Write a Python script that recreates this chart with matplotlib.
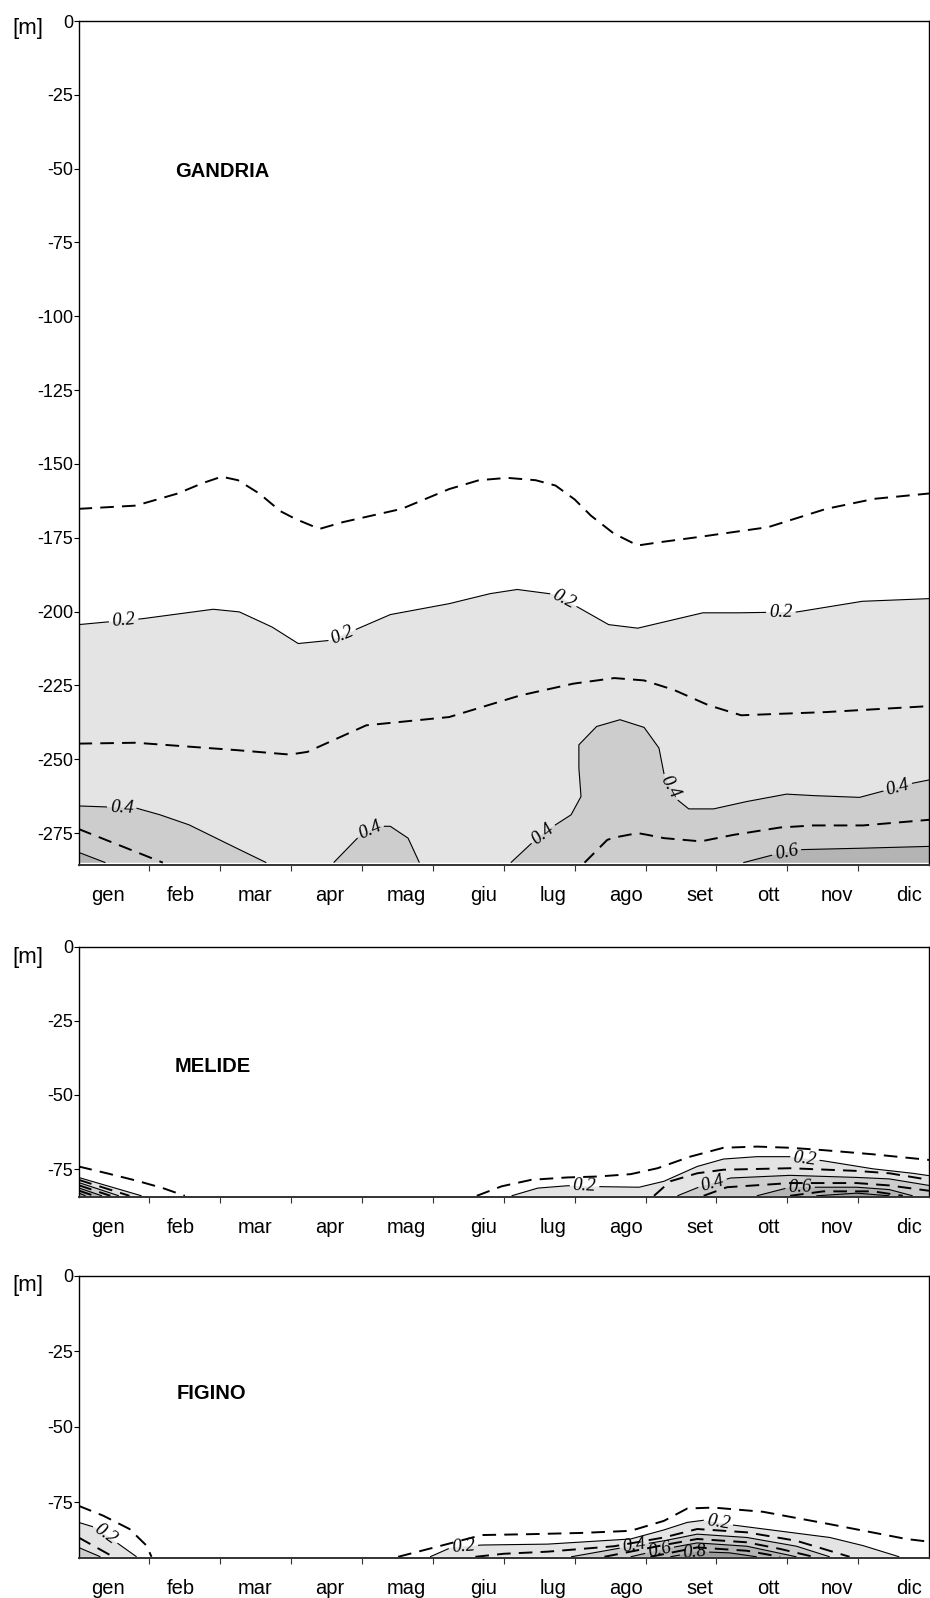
import numpy as np
import matplotlib
matplotlib.use("Agg")
import matplotlib.pyplot as plt
from matplotlib.contour import ContourSet

plt.rcParams['font.family'] = ['Liberation Sans', 'DejaVu Sans']

# ---------------- data ----------------
MONTHS = ['gen', 'feb', 'mar', 'apr', 'mag', 'giu', 'lug', 'ago', 'set', 'ott', 'nov', 'dic']
MONTH_LABEL_POS = [0.41, 1.44, 2.49, 3.55, 4.63, 5.72, 6.69, 7.72, 8.77, 9.73, 10.70, 11.72]

# ---- GANDRIA isolines (month, depth m) ----
G01_X = [0, 0.81, 1.40, 1.75, 2.02, 2.25, 2.55, 2.85, 3.06, 3.40, 3.73, 4.56, 5.23, 5.65, 6.05, 6.45, 6.73, 7.00, 7.23, 7.55, 7.89, 8.20, 8.73, 9.73, 10.55, 11.23, 12]
G01_Y = [-165.2, -164.1, -160, -156.5, -154.3, -155.5, -160, -166, -168.6, -172, -169.7, -165.2, -158.5, -155.5, -154.7, -155.5, -157.3, -162, -167.5, -173.5, -177.6, -176.5, -174.8, -171.4, -165.2, -161.8, -160]
G02_X = [0, 0.90, 1.90, 2.27, 2.73, 3.10, 3.56, 4.40, 5.23, 5.81, 6.19, 6.73, 7.48, 7.89, 8.81, 9.31, 10.14, 11.06, 12]
G02_Y = [-204.4, -202.4, -199.2, -200.1, -205.2, -210.8, -209.7, -201, -197.3, -193.9, -192.5, -194.2, -204.4, -205.6, -200.4, -200.4, -200.1, -196.5, -195.6]
G03_X = [0, 0.81, 2.23, 2.98, 3.23, 4.06, 5.23, 6.23, 6.98, 7.56, 7.98, 8.40, 8.89, 9.35, 10.56, 12]
G03_Y = [-244.7, -244.4, -246.9, -248.4, -247.5, -238.5, -235.7, -228.4, -224.4, -222.5, -223.3, -226.5, -231.7, -235.1, -234, -232]
G04A_X = [0, 0.81, 1.15, 1.56, 2.23, 2.65]
G04A_Y = [-265.8, -266.5, -268.8, -272.2, -280.1, -285]
G04B_X = [3.60, 3.98, 4.23, 4.40, 4.65, 4.81]
G04B_Y = [-285, -275.6, -272.7, -272.7, -276.7, -285]
G04C_X = [6.10, 6.39, 6.62, 6.95, 7.09, 7.06, 7.06, 7.31, 7.64, 7.98, 8.19, 8.27, 8.45, 8.61, 8.96, 9.43, 9.99, 10.37, 11.02, 11.77, 12]
G04C_Y = [-285, -278.5, -273.9, -268.8, -262.6, -253, -245.1, -238.9, -236.6, -239.2, -246.2, -256, -263.7, -266.8, -266.8, -264.3, -261.8, -262.3, -262.9, -258.1, -257]
G05A_X = [0, 0.93, 1.19]
G05A_Y = [-273.6, -282.5, -285]
G05B_X = [7.14, 7.46, 7.56, 7.89, 8.03, 8.26, 8.78, 9.24, 9.90, 10.37, 11.07, 12]
G05B_Y = [-285, -277.3, -276.5, -275, -275.6, -276.7, -277.8, -275.6, -273.1, -272.4, -272.4, -270.5]
G06A_X = [0, 0.38]
G06A_Y = [-281.5, -285]
G06B_X = [9.38, 9.86, 10.18, 11.07, 12]
G06B_Y = [-285, -282, -280.6, -280.1, -279.5]
G_LABELS_X = [0.64, 3.72, 6.84, 9.91, 0.61, 4.12, 6.52, 8.34, 11.56, 9.99]
G_LABELS_Y = [-204, -208, -196, -200.4, -266.5, -274.4, -274.3, -259.6, -259.6, -281.3]

# ---- MELIDE isolines ----
M01A_X = [0, 0.40, 0.82, 1.19, 1.50]
M01A_Y = [-74.1, -76.4, -78.9, -81.4, -84]
M01B_X = [5.62, 5.97, 6.39, 6.90, 7.32, 7.79, 8.17, 8.63, 9.10, 9.57, 10.04, 10.51, 11.21, 12]
M01B_Y = [-84, -80.8, -78.6, -77.8, -77.5, -76.7, -74.7, -70.8, -67.8, -67.4, -67.8, -68.6, -70, -71.9]
M02A_X = [0, 0.89]
M02A_Y = [-77.8, -84]
M02B_X = [6.11, 6.48, 6.90, 7.32, 7.91, 8.26, 8.73, 9.10, 9.57, 10.04, 10.51, 11.21, 11.77, 12]
M02B_Y = [-84, -81.4, -80.6, -80.9, -81.1, -79.1, -74.1, -71.6, -70.8, -70.8, -72.2, -74.9, -76.4, -77.2]
M03A_X = [0, 0.72]
M03A_Y = [-78.6, -84]
M03B_X = [8.12, 8.35, 8.73, 9.10, 10.04, 10.98, 11.44, 12]
M03B_Y = [-84, -79.1, -76.4, -75.2, -74.7, -75.6, -76.4, -78.6]
M04A_X = [0, 0.57]
M04A_Y = [-79.5, -84]
M04B_X = [8.45, 8.78, 9.20, 10.04, 10.98, 11.44, 12]
M04B_Y = [-84, -80.8, -78.0, -77.1, -77.8, -78.3, -80.5]
M05A_X = [0, 0.45]
M05A_Y = [-80.4, -84]
M05B_X = [8.82, 9.15, 10.04, 10.98, 11.44, 12]
M05B_Y = [-84, -81.1, -79.7, -79.7, -80.5, -82.3]
M06A_X = [0, 0.33]
M06A_Y = [-81.3, -84]
M06B_X = [9.57, 10.04, 10.98, 11.44, 11.77]
M06B_Y = [-84, -81.1, -81.1, -81.9, -84]
M07A_X = [0, 0.22]
M07A_Y = [-82.2, -84]
M07B_X = [10.04, 10.51, 11.21, 11.63]
M07B_Y = [-84, -82.5, -82.5, -84]
M08A_X = [0, 0.10]
M08A_Y = [-83.0, -84]
M08B_X = [10.41, 10.98, 11.44]
M08B_Y = [-84, -83.1, -84]
M_LABELS_X = [7.14, 10.25, 8.94, 10.18]
M_LABELS_Y = [-80.8, -71.2, -79.3, -80.1]

# ---- FIGINO isolines ----
F01A_X = [0, 0.35, 0.72, 0.96, 1.03]
F01A_Y = [-76.1, -79.4, -83.8, -89.3, -93]
F01B_X = [4.51, 5.12, 5.69, 6.39, 7.09, 7.79, 8.26, 8.59, 8.96, 9.66, 10.60, 11.68, 12]
F01B_Y = [-93, -89.3, -85.8, -85.5, -85.1, -84.4, -81.1, -77, -76.7, -78.1, -82.2, -87.1, -88]
F02A_X = [0, 0.24, 0.82]
F02A_Y = [-81.6, -83.3, -93]
F02B_X = [4.96, 5.26, 5.69, 6.62, 7.79, 8.26, 8.59, 8.82, 9.24, 10.60, 11.07, 11.58]
F02B_Y = [-93, -89.9, -89.1, -88.8, -87.1, -84.1, -81.6, -80.9, -82.5, -86.6, -89.3, -93]
F03A_X = [0, 0.49]
F03A_Y = [-86.6, -93]
F03B_X = [5.60, 6.00, 6.62, 7.56, 8.26, 8.73, 9.43, 10.13, 10.88]
F03B_Y = [-93, -92.0, -91.3, -89.5, -86.6, -83.8, -84.9, -87.7, -93]
F04A_X = [0, 0.31]
F04A_Y = [-89.9, -93]
F04B_X = [6.95, 7.79, 8.26, 8.73, 9.43, 10.13, 10.60]
F04B_Y = [-93, -89.5, -87.7, -85.5, -86.6, -89.5, -93]
F05B_X = [7.42, 8.26, 8.73, 9.43, 9.90, 10.37]
F05B_Y = [-93, -89.1, -87.1, -88.2, -90.4, -93]
F06B_X = [7.79, 8.26, 8.73, 9.43, 10.13]
F06B_Y = [-93, -90.4, -88.4, -89.5, -93]
F07B_X = [8.07, 8.73, 9.43, 9.90]
F07B_Y = [-93, -89.9, -91.0, -93]
F08B_X = [8.35, 8.73, 9.19, 9.57]
F08B_Y = [-93, -91.3, -91.7, -93]
F_LABELS_X = [0.35, 5.43, 9.03, 7.84, 8.19, 8.68]
F_LABELS_Y = [-86.6, -89.9, -81.4, -89.1, -89.9, -90.2]

GANDRIA_TICKS = [0, -25, -50, -75, -100, -125, -150, -175, -200, -225, -250, -275]
SMALL_TICKS = [0, -25, -50, -75]

FILL_COLORS = {0.2: '#e4e4e4', 0.4: '#cdcdcd', 0.6: '#b4b4b4', 0.8: '#9c9c9c'}

panels = [
    dict(name='GANDRIA', bottom=-285, gap=0.8, ticks=GANDRIA_TICKS,
         rect=[78.5, 21, 929, 865], name_xy=(1.36, -51),
         lines=[(0.1, G01_X, G01_Y), (0.2, G02_X, G02_Y), (0.3, G03_X, G03_Y),
                (0.4, G04A_X, G04A_Y), (0.4, G04B_X, G04B_Y), (0.4, G04C_X, G04C_Y),
                (0.5, G05A_X, G05A_Y), (0.5, G05B_X, G05B_Y),
                (0.6, G06A_X, G06A_Y), (0.6, G06B_X, G06B_Y)],
         labels=(G_LABELS_X, G_LABELS_Y), m_off=-7.5),
    dict(name='MELIDE', bottom=-84, gap=0.3, ticks=SMALL_TICKS,
         rect=[78.5, 946.7, 929, 1196.7], name_xy=(1.36, -40.5),
         lines=[(0.1, M01A_X, M01A_Y), (0.1, M01B_X, M01B_Y),
                (0.2, M02A_X, M02A_Y), (0.2, M02B_X, M02B_Y),
                (0.3, M03A_X, M03A_Y), (0.3, M03B_X, M03B_Y),
                (0.4, M04A_X, M04A_Y), (0.4, M04B_X, M04B_Y),
                (0.5, M05A_X, M05A_Y), (0.5, M05B_X, M05B_Y),
                (0.6, M06A_X, M06A_Y), (0.6, M06B_X, M06B_Y),
                (0.7, M07A_X, M07A_Y), (0.7, M07B_X, M07B_Y),
                (0.8, M08A_X, M08A_Y), (0.8, M08B_X, M08B_Y)],
         labels=(M_LABELS_X, M_LABELS_Y), m_off=-10.5),
    dict(name='FIGINO', bottom=-93, gap=0.3, ticks=SMALL_TICKS,
         rect=[78.5, 1276, 929, 1557.7], name_xy=(1.39, -39),
         lines=[(0.1, F01A_X, F01A_Y), (0.1, F01B_X, F01B_Y),
                (0.2, F02A_X, F02A_Y), (0.2, F02B_X, F02B_Y),
                (0.3, F03A_X, F03A_Y), (0.3, F03B_X, F03B_Y),
                (0.4, F04A_X, F04A_Y), (0.4, F04B_X, F04B_Y),
                (0.5, F05B_X, F05B_Y), (0.6, F06B_X, F06B_Y),
                (0.7, F07B_X, F07B_Y), (0.8, F08B_X, F08B_Y)],
         labels=(F_LABELS_X, F_LABELS_Y), m_off=-9.5),
]

W, H = 930, 1598
fig = plt.figure(figsize=(W / 100, H / 100), dpi=100)
XMAX = 12.0


def is_solid(lv):
    return int(round(lv * 10)) % 2 == 0


for p in panels:
    l, t, r, b = p['rect']
    ax = fig.add_axes([l / W, 1 - b / H, (r - l) / W, (b - t) / H])
    ybot = p['bottom']

    # filled regions (value above each solid level lies toward the bottom)
    for lv, xs, ys in sorted(p['lines'], key=lambda q: q[0]):
        if not is_solid(lv):
            continue
        px, py = list(xs), list(ys)
        if px[-1] >= XMAX - 1e-6:
            px.append(XMAX); py.append(ybot)
        if px[0] <= 1e-6:
            px.append(0.0); py.append(ybot)
        ax.fill(px, py, color=FILL_COLORS[lv], lw=0, zorder=1)

    levs = sorted(set(q[0] for q in p['lines']))
    solid_levs = [lv for lv in levs if is_solid(lv)]
    dash_levs = [lv for lv in levs if not is_solid(lv)]

    def segs_for(levels):
        return [[np.column_stack([xs, ys]) for lv2, xs, ys in p['lines'] if lv2 == lv]
                for lv in levels]

    ContourSet(ax, dash_levs, segs_for(dash_levs), colors='k', linewidths=1.4,
               linestyles=[(0, (7.0, 4.2))] * len(dash_levs), zorder=2)
    cs = ContourSet(ax, solid_levs, segs_for(solid_levs), colors='k', linewidths=0.8,
                    linestyles='solid', zorder=2)

    ax.set_xlim(0, XMAX)
    ax.set_ylim(ybot - p['gap'], 0)

    lx, ly = p['labels']
    with plt.rc_context({'font.family': ['Liberation Serif', 'DejaVu Serif'],
                         'font.style': 'italic'}):
        ax.clabel(cs, inline=True, inline_spacing=3, fmt='%.1f', fontsize=13.5,
                  manual=list(zip(lx, ly)))

    # axes styling
    for s in ax.spines.values():
        s.set_linewidth(1.0)
        s.set_color('black')
        s.set_zorder(5)
    ax.spines['bottom'].set_color('#333333')
    ax.spines['bottom'].set_linewidth(1.4)

    ax.set_yticks(p['ticks'], labels=[str(v) for v in p['ticks']])
    ax.tick_params(axis='y', direction='out', length=3.5, width=0.8, pad=0.5, labelsize=13)
    ax.set_xticks(MONTH_LABEL_POS, labels=MONTHS)
    ax.tick_params(axis='x', which='major', length=0, pad=15, labelsize=14.5)
    ax.set_xticks(np.arange(1, 12), minor=True)
    ax.tick_params(axis='x', which='minor', direction='out', length=4, width=0.8, color='#333333')

    ax.text(p['name_xy'][0], p['name_xy'][1], p['name'], ha='left', va='center',
            fontsize=14.5, fontweight='bold')
    ax.annotate('[m]', xy=(0, 1), xycoords='axes fraction', xytext=(-51, p['m_off']),
                textcoords='offset pixels', ha='center', va='center', fontsize=16)

fig.savefig('out.png', dpi=100)
